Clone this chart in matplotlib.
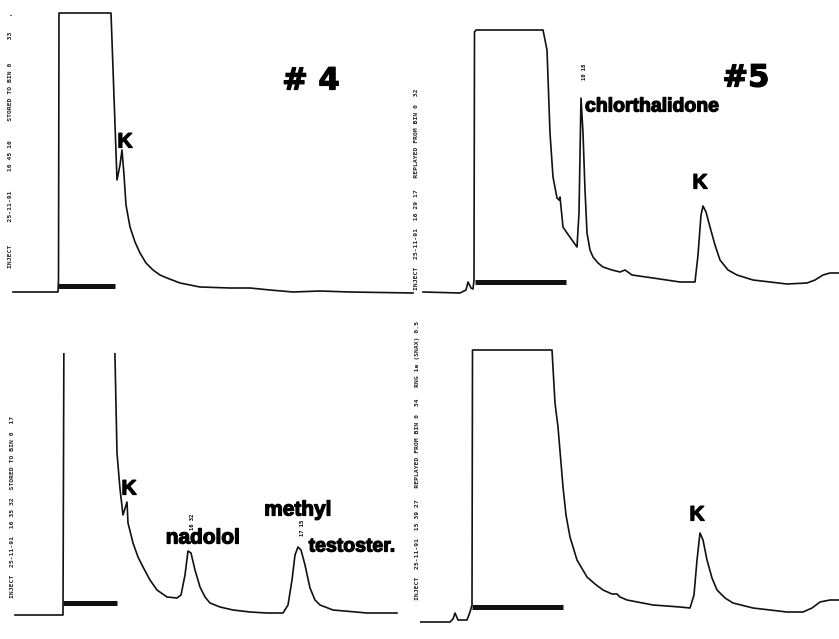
import matplotlib.pyplot as plt
import matplotlib.patheffects as pe
import numpy as np

# Chromatograms, time in chart units (x) and detector response (y)
# top left: sample #4, first run
tl_time = [13, 58, 58.5, 59, 111, 117, 120, 122, 124, 126, 130, 135, 140, 146, 153, 160,
           167, 180, 200, 230, 250, 270, 293, 320, 350, 413]
tl_signal = [8, 8, 20, 287, 287, 120, 135, 150, 125, 95, 73, 58, 47, 37, 30, 25,
             22, 17, 13, 12, 12, 10, 8, 9, 8, 7]

# top right: sample #5, first run
tr_time = [3, 40, 46, 48, 51, 53, 54, 54.5, 56, 123, 127, 130, 133, 137, 139, 140, 143, 147,
           152, 157, 159, 161, 163, 165, 167, 170, 173, 178, 183, 192, 200, 205, 212, 233,
           260, 275, 278, 281, 283, 286, 290, 295, 300, 308, 317, 333, 350, 367, 387, 395,
           403, 410, 419]
tr_signal = [8, 7, 10, 18, 12, 11, 20, 268, 270, 270, 250, 167, 123, 102, 100, 103, 73, 67,
             60, 53, 87, 202, 167, 110, 67, 50, 43, 37, 33, 30, 28, 30, 25, 22,
             18, 18, 45, 85, 94, 88, 73, 55, 40, 30, 25, 20, 18, 16, 17, 20,
             25, 27, 27]

# bottom left: sample #4, second run (solvent front off scale)
bl_time = [15, 63, 64, 114, 117, 120, 123, 127, 128, 133, 138, 143, 150, 157, 167, 177, 181,
           185, 188, 191, 195, 200, 205, 210, 220, 233, 250, 267, 283, 288, 292, 295, 298,
           301, 305, 310, 315, 320, 333, 367, 397]
bl_signal = [24, 24, 330, 330, 186, 150, 124, 137, 116, 96, 82, 72, 59, 49, 42, 41, 44,
             64, 88, 86, 69, 52, 42, 36, 32, 29, 27, 26, 26, 34, 59, 84, 92,
             89, 74, 51, 39, 34, 29, 26, 26]

# bottom right: sample #5, second run
br_time = [0, 30, 33, 35, 38, 47, 50, 52, 52.5, 132, 135, 138, 143, 146, 150, 157, 167, 175,
           183, 192, 197, 200, 207, 233, 260, 270, 274, 277, 280, 283, 287, 292, 297, 305,
           313, 333, 367, 383, 392, 400, 410, 419]
br_signal = [17, 17, 20, 26, 19, 19, 27, 34, 289, 289, 236, 212, 152, 124, 102, 79, 62, 55,
             49, 45, 45, 42, 39, 34, 32, 31, 44, 79, 106, 99, 79, 61, 49, 41,
             36, 31, 27, 27, 31, 37, 39, 39]

# integration bars (start, end, level)
tl_bar = (58, 115, 14)
tr_bar = (55, 146, 18)
bl_bar = (63, 117, 36)
br_bar = (52, 143, 32)

tl_header = "INJECT      25-11-91     16 45 16     STORED TO BIN 0      33    ,"
tr_header = "INJECT  25-11-91  16 29 17   REPLAYED FROM BIN 0  32"
bl_header = "INJECT  25-11-91  16 35 32  STORED TO BIN 0  17"
br_header = "INJECT  25-11-91  15 39 27   REPLAYED FROM BIN 0  34   RNG 1e (SNAX) 0.5"

W, H = 839, 639
fig = plt.figure(figsize=(W / 100, H / 100), dpi=100)


def panel(left, bottom, width, height):
    ax = fig.add_axes([left / W, (H - bottom) / H, width / W, height / H])
    ax.set_xlim(0, width)
    ax.set_ylim(0, height)
    ax.set_axis_off()
    return ax


def draw(ax, t, s, bar):
    ax.plot(t, s, color="#111111", lw=1.2, solid_joinstyle="round")
    ax.plot(bar[:2], [bar[2], bar[2]], color="#111111", lw=3.6, solid_capstyle="butt")


def header(ax, x, y, text, size=4.6):
    ax.text(x, y, text, rotation=90, rotation_mode="anchor", ha="left", va="center",
            fontsize=size, family="DejaVu Sans Mono", fontweight="bold", color="#222222",
            clip_on=False)


thick = [pe.withStroke(linewidth=0.9, foreground="black")]
label = dict(family="Liberation Sans", fontweight="bold", color="black", path_effects=thick)
big = dict(family="DejaVu Sans", fontweight="heavy", fontsize=22, color="black",
           ha="center", va="center", path_effects=thick)
tiny = dict(rotation=90, fontsize=4, ha="center", va="center",
            family="DejaVu Sans Mono", fontweight="bold")

ax_tl = panel(0, 300, 420, 300)
draw(ax_tl, tl_time, tl_signal, tl_bar)
ax_tl.text(311, 219, "# 4", **big)
ax_tl.text(125, 158, "K", fontsize=15, ha="center", va="center", **label)
header(ax_tl, 10, 32, tl_header)

ax_tr = panel(420, 300, 419, 300)
draw(ax_tr, tr_time, tr_signal, tr_bar)
ax_tr.text(326, 222, "#5", **big)
ax_tr.text(165, 193, "chlorthalidone", fontsize=14, ha="left", va="center", **label)
ax_tr.text(280, 117, "K", fontsize=15, ha="center", va="center", **label)
ax_tr.text(164, 228, "10 18", **tiny)
header(ax_tr, -4, 10, tr_header)

ax_bl = panel(0, 639, 420, 286)
draw(ax_bl, bl_time, bl_signal, bl_bar)
ax_bl.text(129, 150, "K", fontsize=15, ha="center", va="center", **label)
ax_bl.text(203, 101, "nadolol", fontsize=15, ha="center", va="center", **label)
ax_bl.text(298, 129, "methyl", fontsize=15, ha="center", va="center", **label)
ax_bl.text(352, 92, "testoster.", fontsize=14, ha="center", va="center", **label)
ax_bl.text(192, 117, "16 32", **tiny)
ax_bl.text(302, 111, "17 15", **tiny)
header(ax_bl, 12, 41, bl_header)

ax_br = panel(420, 639, 419, 319)
draw(ax_br, br_time, br_signal, br_bar)
ax_br.text(277, 124, "K", fontsize=15, ha="center", va="center", **label)
header(ax_br, -3, 39, br_header)

fig.savefig("out.png", dpi=100, facecolor="white")
